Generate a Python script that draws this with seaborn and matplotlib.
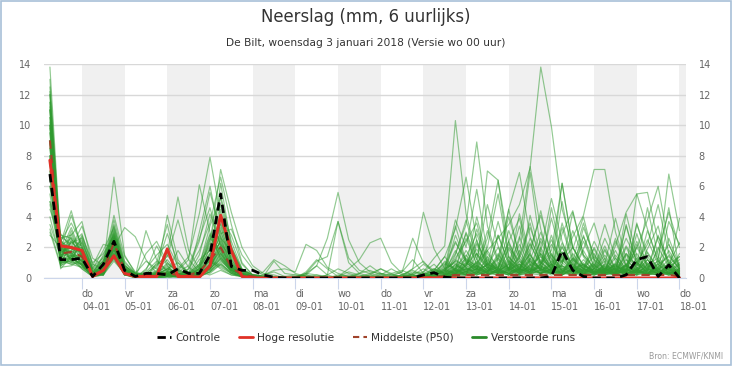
import numpy as np
import pandas as pd
import matplotlib
matplotlib.use("Agg")
import matplotlib.pyplot as plt
from matplotlib.lines import Line2D
from matplotlib.patches import Rectangle
import seaborn as sns

# 6-hourly steps, first value valid 03-01 06 UTC, last 18-01 00 UTC
times = pd.date_range("2018-01-03 06:00", periods=60, freq="6h")
day_ticks = pd.date_range("2018-01-04", "2018-01-18", freq="D")
day_names = ["do", "vr", "za", "zo", "ma", "di", "wo", "do", "vr", "za", "zo", "ma", "di", "wo", "do"]
y_ticks = [0, 2, 4, 6, 8, 10, 12, 14]

controle = [6.8, 1.2, 1.2, 1.3, 0.1, 0.9, 2.4, 0.5, 0.1, 0.3,
            0.3, 0.2, 0.6, 0.3, 0.3, 1.5, 5.5, 0.75, 0.5, 0.5,
            0.2, 0.05, 0, 0, 0, 0, 0, 0, 0, 0,
            0, 0, 0, 0, 0, 0.2, 0.35, 0.05, 0, 0,
            0, 0, 0, 0, 0, 0, 0, 0.1, 1.8, 0.5,
            0.1, 0, 0, 0, 0.2, 1.2, 1.4, 0.1, 0.85, 0]

hoge_resolutie = [7.7, 2.1, 2.0, 1.8, 0.1, 0.5, 1.45, 0.3, 0.1, 0.1,
                  0.1, 1.9, 0.1, 0.1, 0.05, 0.8, 4.1, 1.8, 0.1, 0,
                  0, 0, 0, 0, 0, 0, 0, 0, 0, 0,
                  0, 0, 0, 0, 0, 0, 0, 0, 0, 0,
                  0, 0, 0, 0, 0, 0, 0, 0, 0, 0,
                  0, 0, 0, 0, 0, 0, 0, 0, 0, 0]

middelste = [9.0, 1.6, 1.7, 1.4, 0.2, 0.5, 2.3, 0.5, 0.1, 0.2,
             0.2, 0.3, 0.2, 0.2, 0.4, 1.2, 2.0, 0.7, 0.2, 0.1,
             0, 0, 0, 0, 0, 0, 0, 0, 0, 0,
             0, 0, 0, 0, 0, 0, 0.1, 0.1, 0.2, 0.2,
             0.2, 0.2, 0.2, 0.2, 0.2, 0.2, 0.2, 0.2, 0.2, 0.2,
             0.2, 0.2, 0.2, 0.2, 0.2, 0.2, 0.2, 0.2, 0.2, 0.1]

verstoorde_runs = [
    [13.8, 2.2, 1.5, 1.2, 0.2, 0.8, 2.6, 0.4, 0.1, 0.2,  0.5, 1.2, 0.3, 0.1, 0.4, 2.0, 3.5, 1.0, 0.3, 0.1,  0, 0, 0, 0.1, 0.3, 0.2, 0, 0.1, 0.4, 0.2,  0, 0.1, 0, 0.2, 0.6, 1.1, 0.3, 0.8, 2.4, 1.0,  0.5, 1.8, 0.6, 2.2, 0.4, 1.2, 3.0, 0.8, 0.3, 1.6,  0.6, 2.4, 1.0, 0.2, 3.5, 0.9, 0.4, 2.0, 0.7, 1.2],
    [13.0, 1.8, 4.1, 2.0, 0.1, 0.5, 3.2, 0.6, 0.2, 0.1,  0.2, 0.6, 1.0, 0.3, 1.5, 4.2, 2.2, 0.6, 0.1, 0,  0.1, 0, 0, 0, 0.2, 0, 0, 0, 0.1, 0.3,  0.5, 0.2, 0, 0, 0.3, 0.4, 0.9, 0.2, 1.5, 3.8,  1.2, 0.4, 2.8, 0.9, 0.3, 4.1, 1.5, 0.6, 2.3, 0.8,  0.2, 1.1, 0.4, 2.6, 0.8, 0.3, 1.9, 3.4, 0.6, 0.2],
    [12.5, 1.2, 1.0, 0.9, 0.3, 1.4, 2.2, 0.3, 0, 0,  1.0, 3.5, 0.6, 0.2, 0.1, 0.9, 6.2, 2.1, 0.4, 0.2,  0.1, 0, 0.1, 0, 0, 0, 0, 0.2, 0.1, 0,  0, 0, 0.2, 0.1, 0, 0.3, 0.6, 0.2, 0.4, 1.2,  0.8, 2.6, 6.4, 1.4, 0.5, 0.2, 1.1, 0.4, 0.9, 3.1,  1.4, 0.3, 0.6, 1.8, 0.4, 2.2, 0.7, 0.2, 1.0, 0.3],
    [12.0, 2.6, 2.8, 3.7, 0.8, 2.2, 2.0, 0.5, 0.2, 0.1,  0, 0.2, 0.1, 0.6, 2.4, 5.6, 3.0, 1.2, 0.3, 0.1,  0, 0, 0, 0, 0, 0.2, 0.1, 0, 0, 0.1,  0.2, 0, 0, 0.1, 0.4, 0.2, 0.1, 0.6, 1.0, 0.5,  3.2, 1.1, 0.6, 2.4, 0.7, 1.6, 4.4, 1.3, 0.5, 0.2,  2.8, 0.6, 1.5, 0.4, 1.2, 0.5, 3.1, 1.1, 0.3, 0.9],
    [12.0, 1.5, 1.8, 1.1, 0.1, 0.3, 1.6, 0.2, 0.1, 0.5,  2.1, 0.8, 0.1, 0, 0.3, 1.2, 4.5, 0.9, 0.2, 0,  0, 0.1, 0, 0, 0.4, 1.2, 0.6, 0.1, 0, 0,  0, 0, 0, 0, 0.1, 0.2, 0.1, 0.1, 0.3, 0.7,  0.2, 0.4, 1.3, 0.6, 2.7, 0.9, 0.3, 1.5, 0.6, 0.4,  1.8, 0.5, 0.2, 0.7, 2.1, 1.0, 0.4, 0.2, 2.6, 0.8],
    [11.5, 0.9, 2.4, 1.6, 0.2, 0.6, 3.0, 0.8, 0.3, 1.1,  0.6, 0.2, 0, 0.1, 0.6, 2.8, 1.4, 0.4, 0.1, 0,  0, 0, 0, 0.1, 0, 0, 0.2, 0.6, 0.3, 0.1,  0, 0.1, 0.3, 0.5, 0.2, 0, 0.2, 0.4, 0.6, 2.6,  0.9, 0.3, 0.5, 1.2, 0.4, 2.3, 0.7, 0.5, 3.6, 1.2,  0.4, 0.8, 2.1, 0.6, 0.3, 1.3, 0.5, 2.7, 1.1, 0.2],
    [11.5, 2.0, 1.2, 2.4, 0.4, 0.2, 1.8, 0.4, 0.1, 0,  0, 0.4, 1.8, 0.7, 0.2, 0.6, 2.6, 1.8, 0.5, 0.2,  0.1, 0, 0, 0, 0, 0, 0, 0, 0, 0.1,  0.3, 0.1, 0, 0, 0, 0.1, 0.4, 1.0, 0.5, 0.2,  1.6, 0.6, 0.3, 2.0, 1.1, 0.4, 1.8, 5.2, 2.4, 0.6,  1.0, 0.3, 0.6, 0.2, 0.8, 0.4, 1.2, 0.5, 0.3, 1.6],
    [11.0, 1.3, 3.1, 1.4, 0.1, 1.0, 2.4, 0.6, 0.2, 0.1,  0.3, 0.9, 0.5, 0.2, 0.8, 3.4, 5.2, 2.0, 0.6, 0.2,  0.1, 0, 0, 0, 0, 0.1, 0, 0, 0, 0,  0, 0, 0, 0.1, 0.2, 0.6, 0.2, 0.1, 0.9, 0.4,  0.3, 1.0, 0.5, 0.2, 1.4, 3.6, 0.8, 0.3, 1.1, 2.0,  0.7, 0.2, 0.4, 1.5, 0.6, 0.2, 0.9, 1.3, 4.6, 0.5],
    [11.0, 1.7, 2.0, 0.8, 0.2, 0.4, 3.5, 1.0, 0.3, 0.2,  0.1, 0, 0.2, 0.1, 0.3, 0.8, 1.6, 0.5, 0.2, 0.1,  0, 0, 0, 0, 0.2, 0.1, 0, 0, 0, 0,  0.1, 0.3, 0.1, 0, 0.2, 0.1, 0.3, 0.5, 3.4, 1.1,  0.6, 0.8, 2.0, 0.5, 0.9, 0.3, 0.5, 2.8, 0.7, 0.3,  0.5, 1.6, 0.4, 0.3, 2.0, 0.6, 0.2, 0.5, 1.2, 0.4],
    [11.0, 0.6, 1.4, 2.8, 1.0, 1.6, 2.8, 0.3, 0, 0.6,  1.5, 2.2, 0.8, 0.4, 0.2, 0.5, 1.0, 0.3, 0.1, 0,  0, 0, 0, 0, 0, 0, 0, 0.1, 0.2, 0.1,  0, 0, 0, 0, 0.3, 0.9, 0.4, 0.2, 0.5, 0.3,  0.8, 0.4, 1.6, 0.6, 0.3, 0.8, 2.4, 0.9, 0.3, 1.1,  3.6, 1.2, 0.5, 0.8, 0.4, 0.2, 0.6, 0.3, 0.9, 2.3],
    [10.5, 1.9, 1.6, 1.3, 0.1, 0.7, 2.1, 0.5, 0.2, 0.1,  0.2, 0.6, 0.3, 0.2, 3.0, 6.0, 2.6, 0.8, 0.2, 0,  0, 0, 0, 0, 0, 0, 0, 0, 0.1, 0,  0, 0.2, 0.6, 0.2, 0, 0, 0.1, 0.3, 0.6, 0.2,  2.2, 0.7, 0.4, 0.9, 3.4, 1.0, 0.6, 0.3, 2.1, 0.5,  0.9, 0.3, 1.8, 0.5, 0.2, 3.6, 1.2, 0.4, 0.7, 0.3],
    [10.5, 2.4, 3.6, 2.2, 0.3, 0.9, 4.1, 1.4, 0.4, 0.2,  0.1, 0.2, 0.1, 0, 0.2, 1.6, 3.9, 1.2, 0.3, 0.1,  0, 0, 0, 0, 0, 0, 0, 0, 0, 0,  0.1, 0.1, 0, 0, 0, 0.2, 0.5, 1.4, 0.4, 0.6,  0.5, 3.1, 1.0, 0.4, 0.6, 1.5, 0.5, 0.9, 0.2, 0.6,  0.3, 0.7, 0.2, 0.4, 1.6, 0.8, 2.5, 0.9, 0.4, 0.2],
    [10.0, 1.1, 0.9, 0.7, 0.2, 1.2, 1.5, 0.2, 0.1, 0.3,  0.8, 1.6, 5.3, 1.8, 0.6, 0.3, 0.9, 0.4, 0.1, 0,  0, 0, 0, 0, 0, 0, 0, 0, 0, 0,  0, 0, 0, 0, 0, 0.1, 0.2, 0.4, 1.8, 0.6,  0.4, 0.2, 0.6, 4.5, 1.3, 0.5, 0.7, 1.6, 0.4, 0.2,  0.8, 0.5, 0.3, 1.0, 0.4, 2.9, 0.7, 0.3, 0.6, 1.4],
    [10.0, 2.8, 2.6, 1.0, 0.1, 0.3, 2.7, 0.7, 0.2, 0,  0, 0.1, 0.6, 1.4, 4.2, 7.9, 4.0, 1.5, 0.5, 0.2,  0.1, 0.1, 0, 0, 0, 0, 0, 0, 0, 0,  0, 0, 0, 0, 0, 0, 0.1, 0.2, 0.7, 1.5,  0.6, 0.3, 1.2, 0.5, 2.2, 0.8, 1.4, 0.6, 3.3, 1.0,  0.4, 0.9, 0.3, 2.4, 0.7, 0.4, 1.7, 0.6, 0.3, 0.5],
    [10.0, 1.4, 1.7, 2.0, 0.6, 1.8, 3.3, 0.9, 0.1, 0.1,  0.4, 0.3, 0.2, 0.1, 0.7, 2.3, 7.1, 4.3, 2.0, 0.8,  0.3, 0.2, 0, 0, 0, 0, 0, 0, 0, 0,  0, 0, 0, 0.2, 0.5, 0.2, 0, 0, 0.3, 0.8,  4.0, 1.3, 0.4, 0.7, 0.3, 1.2, 0.6, 0.3, 1.4, 0.6,  0.2, 0.6, 1.1, 0.3, 0.8, 0.4, 0.2, 1.0, 2.2, 0.7],
    [9.5, 0.8, 1.3, 0.9, 0.2, 0.5, 2.5, 0.4, 0.1, 0.2,  0.3, 1.0, 0.4, 0.2, 1.2, 1.8, 2.9, 3.2, 1.5, 0.6,  0.2, 0.4, 0.1, 0, 0, 0, 0, 0, 0, 0,  0.2, 0.6, 0.3, 0, 0.1, 0.2, 0.1, 0.5, 1.1, 2.9,  0.8, 0.5, 0.3, 1.9, 0.6, 0.4, 2.6, 1.2, 0.5, 0.3,  1.2, 0.4, 0.7, 0.3, 1.5, 0.6, 0.3, 0.8, 0.4, 1.0],
    [9.5, 2.1, 1.9, 1.7, 0.3, 0.6, 1.9, 0.3, 0.1, 0.1,  0.1, 0.3, 0.2, 0.6, 1.8, 3.6, 6.6, 3.5, 1.0, 0.2,  0, 0, 0, 0, 0, 0, 0, 0, 0, 0,  0, 0, 0, 0, 0, 0, 0.2, 0.5, 0.3, 1.0,  0.4, 0.9, 3.7, 1.1, 0.4, 0.7, 0.3, 0.6, 1.7, 0.9,  0.3, 0.2, 0.5, 1.3, 0.4, 0.8, 4.6, 1.4, 0.5, 0.2],
    [9.0, 1.6, 2.3, 2.6, 0.5, 0.2, 2.3, 0.5, 0.2, 0.1,  0.2, 4.1, 1.2, 0.3, 0.1, 0.4, 1.3, 0.6, 0.2, 0.1,  0, 0, 0, 0, 0.3, 0.8, 0.2, 0, 0, 0,  0, 0, 0.1, 0.4, 1.2, 0.3, 0.1, 0.2, 0.4, 0.2,  0.6, 0.3, 0.8, 0.4, 1.5, 6.9, 1.8, 0.6, 0.3, 0.5,  0.7, 1.9, 0.4, 0.2, 0.9, 1.6, 0.5, 0.3, 0.6, 0.2],
    [9.0, 1.0, 1.1, 1.5, 0.4, 1.1, 2.9, 0.6, 0.1, 0.4,  1.1, 0.5, 0.2, 0.1, 0.2, 0.6, 2.2, 1.4, 0.4, 0.1,  0, 0, 0, 0, 0, 0, 0.2, 3.7, 1.0, 0.3,  0.1, 0, 0, 0, 0, 0, 0.1, 0.3, 0.9, 0.4,  1.0, 0.5, 0.3, 0.6, 0.9, 0.4, 1.2, 0.7, 5.0, 1.4,  0.6, 0.3, 0.8, 0.5, 0.2, 0.6, 1.4, 0.5, 1.8, 0.6],
    [9.0, 2.3, 4.4, 1.8, 0.2, 0.4, 1.7, 0.3, 0, 0,  0, 0.1, 0.4, 0.8, 2.6, 4.6, 2.0, 0.7, 0.2, 0.1,  0, 0, 0, 0, 0, 0, 0, 0, 0, 0.3,  0.8, 0.3, 0, 0, 0, 0, 0, 0.1, 0.4, 0.8,  0.5, 0.2, 0.4, 1.0, 0.5, 2.6, 1.0, 0.4, 0.2, 0.7,  0.3, 0.6, 1.9, 0.6, 0.4, 1.1, 0.3, 0.2, 0.5, 0.3],
    [8.5, 1.2, 1.5, 0.6, 0.1, 0.3, 2.0, 0.4, 0.2, 0.2,  0.7, 2.9, 1.0, 0.3, 0.6, 1.1, 0.7, 0.3, 0.1, 0,  0, 0, 0, 0, 0, 0, 0, 0, 0, 0,  0, 0, 0, 0, 0, 0.1, 0, 0.2, 1.2, 0.7,  0.3, 1.4, 0.6, 0.3, 0.8, 0.4, 0.9, 3.9, 1.2, 0.4,  0.9, 0.4, 0.3, 0.7, 0.5, 2.0, 0.8, 0.4, 0.3, 0.6],
    [8.5, 1.8, 2.0, 3.4, 1.3, 0.8, 2.6, 0.7, 0.3, 0.1,  0.1, 0.3, 0.1, 0.2, 0.4, 2.5, 5.4, 2.4, 0.6, 0.2,  0.1, 0, 0, 0, 0, 0, 0, 0, 0, 0,  0, 0, 0, 0, 0, 0, 0, 0.1, 0.5, 1.8,  0.7, 0.4, 0.2, 0.5, 1.8, 0.6, 0.3, 0.5, 0.9, 4.3,  1.5, 0.6, 0.4, 0.9, 0.3, 0.5, 1.0, 0.4, 0.2, 0.4],
    [8.0, 0.7, 0.8, 1.2, 0.2, 0.6, 1.3, 0.2, 0.1, 0,  0, 0.2, 0.3, 0.1, 0.2, 0.8, 3.1, 1.0, 0.3, 0.1,  0, 0, 0.1, 0.2, 0.1, 0, 0, 0, 0, 0,  0, 0, 0, 0, 0, 0, 0, 0, 0.2, 0.6,  0.3, 0.7, 0.4, 0.2, 0.6, 0.3, 0.8, 0.5, 0.2, 0.6,  2.4, 0.8, 0.3, 0.5, 0.4, 0.9, 0.3, 0.6, 0.2, 0.4],
    [8.0, 2.5, 1.6, 1.9, 0.3, 0.5, 3.8, 1.1, 0.3, 0.2,  0.2, 0.4, 0.2, 0.1, 0.3, 1.3, 2.4, 0.8, 0.2, 0.1,  0, 0, 0, 0, 0, 0, 0, 0, 0, 0,  0, 0, 0, 0.1, 0, 0, 0.3, 0.6, 0.2, 1.4,  2.9, 0.9, 0.5, 0.3, 0.7, 0.4, 2.0, 0.6, 0.3, 1.3,  0.5, 0.3, 0.9, 3.9, 1.2, 0.5, 0.3, 0.7, 1.5, 0.6],
    [8.0, 1.4, 1.2, 2.3, 0.7, 1.3, 2.2, 0.5, 0.1, 1.6,  2.4, 1.0, 0.3, 0.1, 0.2, 0.5, 1.6, 0.7, 0.2, 0.1,  0, 0, 0, 0, 0, 0, 0, 0, 0, 0,  0, 0, 0, 0, 0, 0, 0, 0, 0.1, 0.4,  1.1, 0.5, 0.7, 0.3, 0.2, 0.9, 0.4, 1.1, 0.5, 0.3,  0.2, 0.4, 0.6, 0.3, 4.2, 1.4, 0.6, 0.3, 0.8, 0.4],
    [7.5, 2.0, 1.7, 0.9, 0.1, 0.2, 1.4, 0.3, 0.1, 0.1,  0.3, 0.8, 0.2, 0.1, 0.3, 0.7, 3.6, 1.6, 0.5, 0.1,  0, 0, 0, 0, 0, 0, 0, 0, 0, 0,  0, 0, 0, 0, 0, 0, 0, 0.1, 0.3, 0.2,  0.4, 0.2, 0.5, 0.8, 0.3, 0.6, 1.6, 0.5, 0.8, 0.3,  0.6, 1.4, 0.5, 0.3, 0.2, 0.4, 0.7, 1.1, 0.5, 3.9],
    [7.5, 1.1, 2.9, 1.4, 0.2, 0.9, 3.1, 0.6, 0.2, 0.1,  0.1, 0.2, 0.1, 0.3, 0.9, 2.1, 4.8, 1.9, 0.5, 0.2,  0.1, 0, 0, 0, 0, 0, 0, 0, 0, 0,  0, 0, 0, 0.1, 0.2, 0.1, 0, 0.1, 0.6, 0.4,  0.2, 0.6, 0.3, 0.4, 1.1, 0.5, 0.3, 0.9, 6.2, 2.0,  0.8, 0.3, 0.5, 0.2, 0.6, 0.3, 0.5, 0.9, 0.3, 0.5],
    [7.0, 1.5, 1.0, 1.6, 0.4, 0.7, 2.4, 0.8, 0.3, 0.2,  0.4, 0.7, 0.2, 0.1, 0.1, 0.4, 1.1, 0.5, 0.2, 0.1,  0, 0, 0, 0, 0, 0, 0, 0, 0, 0,  0, 0, 0, 0, 0, 0, 0, 0, 0.2, 0.9,  1.6, 0.8, 0.4, 0.2, 0.5, 1.3, 0.6, 0.3, 0.4, 0.2,  0.5, 2.0, 0.7, 0.4, 0.9, 0.3, 0.6, 0.3, 0.2, 0.4],
    [7.0, 2.7, 2.2, 2.9, 0.6, 0.4, 1.6, 0.2, 0, 0,  0, 0, 0.1, 0.2, 0.6, 1.9, 4.0, 2.8, 0.9, 0.2,  0.1, 0, 0, 0, 0, 0, 0, 0, 0, 0,  0, 0, 0, 0, 0, 0, 0, 0.2, 0.5, 0.3,  0.6, 0.4, 0.9, 0.5, 4.2, 1.5, 0.5, 0.3, 0.6, 0.4,  0.3, 0.5, 0.2, 0.6, 0.3, 0.7, 0.4, 0.6, 0.9, 0.3],
    [6.5, 0.9, 1.4, 0.8, 0.1, 0.3, 2.8, 0.5, 0.1, 0.3,  0.9, 1.4, 3.8, 1.2, 0.4, 0.2, 0.5, 0.2, 0.1, 0,  0, 0, 0, 0, 0, 0, 0, 0, 0, 0,  0, 0, 0, 0, 0, 0, 0, 0, 0.1, 0.5,  0.8, 0.3, 0.2, 0.6, 0.3, 0.4, 0.8, 0.4, 1.2, 0.5,  0.2, 0.3, 0.8, 0.4, 0.6, 0.2, 0.5, 0.3, 0.7, 0.3],
    [6.5, 1.7, 3.3, 1.5, 0.3, 1.5, 2.7, 0.4, 0.2, 0.1,  0.2, 0.3, 0.5, 1.2, 6.1, 3.0, 1.2, 0.5, 0.2, 0,  0, 0, 0, 0, 0, 0, 0, 0, 0, 0,  0, 0, 0, 0, 0, 0, 0, 0, 0.3, 0.6,  0.4, 1.2, 0.5, 0.3, 0.2, 0.6, 0.3, 0.5, 0.4, 0.8,  0.3, 0.2, 0.4, 0.9, 0.3, 0.5, 0.2, 0.4, 0.3, 0.6],
    [6.0, 2.2, 1.1, 0.7, 0.2, 0.5, 1.2, 0.3, 0.1, 0.1,  0.1, 0.2, 0.2, 0.1, 0.2, 0.9, 1.8, 0.6, 0.2, 0.1,  0.4, 1.2, 0.8, 0.3, 0.1, 0, 0, 0, 0, 0,  0, 0, 0, 0, 0, 0, 0, 0, 0.2, 0.4,  0.6, 0.3, 1.5, 0.6, 0.2, 0.3, 0.5, 0.2, 0.4, 0.9,  0.4, 0.6, 0.3, 0.2, 0.5, 0.3, 0.8, 0.4, 0.2, 0.3],
    [6.0, 1.3, 2.5, 2.1, 0.3, 0.8, 2.0, 3.3, 2.7, 1.2,  0.3, 0.2, 0.1, 0.1, 0.3, 0.6, 1.3, 0.4, 0.1, 0,  0, 0, 0, 0, 0, 0, 0, 0, 0, 0,  0, 0, 0, 0, 0, 0, 0, 0, 0.4, 0.3,  0.2, 0.5, 0.3, 0.7, 0.4, 0.2, 0.6, 0.3, 0.5, 0.2,  0.4, 0.3, 0.5, 0.6, 0.2, 0.4, 0.3, 0.2, 0.6, 0.4],
    [5.5, 1.0, 1.5, 1.1, 0.2, 0.6, 6.6, 1.5, 0.3, 0.2,  0.1, 0.2, 0.1, 0, 0.2, 0.8, 2.0, 0.7, 0.2, 0.1,  0, 0, 0, 0, 0, 0, 0, 0, 0, 0,  0, 0, 0, 0, 0, 0, 0, 0.1, 0.3, 0.8,  2.5, 0.7, 0.3, 0.5, 0.2, 0.4, 0.3, 0.6, 0.2, 0.5,  0.3, 0.2, 0.6, 0.3, 0.4, 0.2, 0.3, 0.5, 0.3, 0.2],
    [5.0, 2.9, 2.0, 1.3, 0.4, 0.2, 1.9, 0.4, 0.1, 3.1,  1.2, 0.4, 0.2, 0.1, 0.4, 1.1, 0.6, 0.2, 0.1, 0,  0, 0, 0, 0, 0, 0, 0, 0, 0, 0,  0, 0, 0, 0, 0, 0, 0, 0, 0.1, 0.2,  0.3, 0.2, 0.4, 0.2, 0.6, 0.3, 0.2, 0.4, 0.3, 0.2,  0.5, 0.3, 0.2, 0.4, 0.3, 0.5, 0.2, 0.3, 0.4, 0.2],
    [5.0, 1.6, 1.3, 0.9, 0.1, 0.4, 2.3, 0.5, 0.2, 0.1,  0.2, 0.6, 0.3, 0.2, 0.5, 1.4, 2.7, 0.9, 0.3, 0.1,  0, 0, 0, 0, 0, 0, 0, 0, 0, 0,  0, 0, 0, 0, 0, 0.4, 1.3, 2.1, 10.3, 4.2,  1.5, 0.6, 2.8, 1.0, 0.4, 0.8, 0.3, 0.6, 1.7, 0.5,  0.3, 0.8, 0.4, 0.2, 0.6, 0.3, 0.9, 0.4, 0.3, 0.5],
    [4.5, 2.4, 1.9, 2.0, 0.3, 0.5, 1.6, 0.3, 0.1, 0.1,  0.1, 0.2, 0.2, 0.1, 0.3, 0.7, 1.5, 0.5, 0.2, 0.1,  0, 0, 0, 0, 0, 0, 0, 0, 0, 0,  0, 0, 0, 0, 0, 0.1, 0.2, 0.5, 1.6, 3.5,  8.9, 3.4, 1.2, 4.0, 1.5, 0.6, 0.3, 0.9, 0.4, 1.3,  0.6, 0.3, 0.5, 0.8, 0.3, 0.4, 0.2, 0.6, 0.3, 0.2],
    [4.0, 1.2, 0.9, 1.2, 0.2, 0.6, 2.1, 0.4, 0.1, 0.2,  0.3, 0.1, 0.1, 0.2, 0.8, 1.6, 2.3, 0.7, 0.2, 0.1,  0, 0, 0, 0, 0, 0, 0, 0, 0, 0,  0, 0, 0, 0, 0, 0.2, 0.6, 0.3, 0.5, 0.4,  1.0, 1.8, 2.6, 3.5, 4.8, 7.2, 13.8, 9.9, 4.5, 2.0,  0.8, 0.4, 0.6, 0.3, 0.9, 0.5, 0.3, 0.7, 0.4, 0.2],
    [3.5, 1.4, 2.7, 1.7, 0.4, 0.3, 2.5, 0.6, 0.2, 0.1,  0.2, 0.4, 0.2, 0.1, 0.6, 2.6, 1.8, 0.5, 0.2, 0.1,  0, 0, 0, 0, 0, 0, 0, 0, 0, 0,  0, 0, 0, 0, 0, 0, 0, 0.2, 0.6, 1.0,  0.5, 0.3, 0.4, 1.1, 0.6, 0.3, 0.9, 2.2, 1.0, 2.7,  4.1, 7.1, 7.1, 3.0, 0.8, 0.5, 1.2, 0.4, 0.3, 0.6],
    [3.0, 0.8, 1.2, 0.6, 0.1, 0.2, 1.3, 0.2, 0.1, 0,  0, 0.1, 0.1, 0, 0.1, 0.4, 0.9, 0.3, 0.1, 0,  0, 0, 0, 0, 0, 0, 0, 0, 0, 0,  0, 0, 0, 0, 0, 0, 0, 0.1, 0.3, 0.2,  0.4, 0.2, 0.6, 0.3, 0.5, 1.6, 0.4, 0.3, 0.8, 0.5,  0.3, 0.6, 0.4, 2.1, 4.3, 5.5, 3.2, 1.1, 6.8, 3.1],
    [2.8, 2.0, 1.6, 1.0, 0.2, 0.4, 2.2, 0.4, 0.1, 0.1,  0.2, 0.5, 0.1, 0.1, 0.3, 0.9, 1.7, 0.6, 0.2, 0.1,  0, 0, 0, 0, 0.2, 0.8, 2.6, 5.6, 2.5, 1.0,  0.4, 0.3, 0.2, 0.1, 0.6, 4.3, 1.9, 0.6, 2.3, 1.2,  0.6, 7.0, 6.4, 2.3, 0.9, 0.4, 0.7, 0.3, 1.5, 0.6,  0.4, 0.9, 0.3, 0.6, 0.2, 1.0, 0.4, 0.3, 0.8, 0.3],
    [12.2, 1.8, 1.4, 1.6, 0.3, 0.7, 2.7, 0.5, 0.1, 0.2,  0.4, 1.5, 0.5, 0.2, 0.3, 1.0, 2.1, 0.8, 0.3, 0.1,  0, 0, 0, 0, 0.3, 1.1, 1.4, 3.7, 1.3, 0.5,  0.3, 0.6, 0.2, 0.4, 2.6, 1.0, 0.5, 1.4, 3.2, 6.6,  2.4, 0.8, 0.4, 0.9, 0.3, 1.1, 0.6, 0.4, 2.0, 0.7,  0.5, 1.0, 0.4, 0.3, 0.7, 2.4, 0.9, 0.4, 0.6, 0.3],
    [11.2, 2.1, 2.6, 1.3, 0.2, 0.5, 1.9, 0.3, 0.1, 0.1,  0.1, 0.3, 0.2, 0.1, 0.2, 0.7, 1.9, 0.7, 0.2, 0.1,  0, 0, 0, 0, 0, 0, 0, 0.1, 0.6, 1.2,  2.3, 2.6, 1.0, 0.3, 0.2, 0.1, 0.3, 0.6, 1.1, 0.8,  1.9, 0.6, 1.3, 4.5, 6.9, 2.7, 1.0, 0.5, 0.8, 0.4,  0.6, 0.3, 0.9, 0.5, 0.3, 0.6, 0.2, 1.2, 0.5, 0.4],
    [10.2, 1.5, 1.8, 2.5, 0.5, 1.0, 2.4, 0.6, 0.2, 0.1,  0.3, 0.6, 0.3, 0.2, 0.5, 1.3, 2.8, 1.1, 0.3, 0.1,  0.2, 0.5, 0.6, 0.4, 2.2, 1.8, 0.7, 0.3, 0.1, 0,  0, 0, 0, 0, 0, 0.2, 0.4, 0.9, 0.6, 1.3,  0.7, 0.4, 1.0, 0.6, 2.5, 7.3, 3.2, 0.9, 0.4, 0.6,  0.9, 0.4, 1.3, 0.5, 0.8, 2.0, 3.8, 6.0, 2.2, 0.7],
    [9.8, 1.9, 1.2, 0.9, 0.2, 0.3, 1.5, 0.2, 0.1, 0,  0.1, 0.2, 0.4, 0.2, 0.3, 0.6, 1.2, 0.4, 0.1, 0,  0.1, 1.1, 0.3, 0.2, 0.1, 0, 0, 0, 0, 0,  0, 0, 0, 0.2, 0.1, 0.3, 0.2, 0.4, 0.8, 0.5,  0.3, 0.9, 0.5, 0.3, 0.6, 0.4, 1.6, 0.8, 0.5, 1.2,  0.6, 0.4, 0.3, 0.8, 0.5, 5.5, 5.6, 2.4, 1.0, 0.5],
    [8.8, 1.0, 2.1, 1.7, 0.6, 1.1, 3.4, 0.8, 0.3, 0.2,  0.2, 0.4, 0.2, 0.1, 0.4, 1.5, 3.3, 1.3, 0.4, 0.1,  0, 0, 0, 0, 0, 0, 0, 0, 0, 0,  0, 0, 0, 0, 0.1, 0.2, 0.5, 0.3, 2.8, 1.1,  0.6, 2.0, 5.5, 1.3, 0.7, 2.2, 0.9, 1.8, 6.2, 1.9,  4.0, 1.2, 0.6, 0.4, 1.6, 0.7, 0.3, 0.9, 1.4, 0.6],
    [7.8, 1.7, 1.5, 1.1, 0.1, 0.4, 2.6, 0.5, 0.2, 0.1,  0.1, 0.2, 0.1, 0.3, 0.9, 2.9, 1.6, 0.5, 0.2, 0,  0, 0, 0, 0, 0, 0, 0, 0, 0, 0,  0, 0, 0, 0, 0, 0, 0.3, 0.7, 3.8, 2.0,  5.8, 1.6, 0.7, 2.4, 3.9, 1.1, 0.5, 4.6, 1.3, 0.6,  1.9, 3.6, 1.2, 0.5, 3.4, 1.0, 0.6, 2.8, 0.9, 1.4],
    [6.8, 2.5, 1.1, 2.7, 0.9, 0.6, 1.8, 0.4, 0.1, 0.1,  0.2, 0.3, 0.2, 0.1, 0.2, 0.6, 1.4, 0.5, 0.2, 0.1,  0, 0, 0, 0, 0, 0, 0, 0, 0, 0,  0, 0, 0, 0, 0, 0, 0.2, 1.1, 0.6, 3.0,  1.2, 4.8, 2.1, 0.6, 1.3, 3.3, 1.4, 0.5, 2.9, 4.4,  1.5, 0.7, 2.6, 1.1, 0.4, 3.5, 1.6, 0.6, 3.7, 2.2],
    [4.8, 1.3, 2.4, 1.4, 0.3, 0.9, 2.9, 0.7, 0.2, 0.1,  0.2, 0.4, 0.3, 0.1, 0.3, 0.8, 2.5, 0.9, 0.3, 0.1,  0, 0, 0, 0, 0, 0, 0, 0, 0, 0,  0, 0, 0, 0, 0, 0, 0.1, 0.4, 1.3, 2.4,  3.6, 0.9, 0.5, 1.4, 0.6, 1.9, 4.1, 1.5, 0.6, 0.9,  2.7, 1.1, 3.5, 1.3, 0.5, 1.0, 2.2, 4.8, 1.6, 0.5],
    [3.2, 0.9, 1.4, 0.8, 0.1, 0.2, 1.1, 0.3, 0.1, 0,  0, 0.1, 0.1, 0.2, 0.4, 1.2, 0.8, 0.3, 0.1, 0,  0, 0, 0, 0, 0, 0, 0, 0, 0, 0,  0, 0, 0, 0, 0, 0, 0, 0.2, 0.5, 0.9,  2.3, 1.0, 0.6, 3.1, 1.2, 0.5, 0.9, 2.5, 1.0, 0.4,  3.3, 1.5, 0.6, 0.9, 2.6, 1.2, 0.5, 1.8, 4.3, 2.0],
]

for run in verstoorde_runs:
    assert len(run) == len(times), len(run)

# long-form table for seaborn
runs_df = pd.DataFrame({
    "tijd": np.tile(times, len(verstoorde_runs)),
    "mm": np.concatenate(verstoorde_runs),
    "run": np.repeat(np.arange(len(verstoorde_runs)), len(times)),
})

sns.set_style("white")
plt.rcParams["font.family"] = ["DejaVu Sans"]

fig = plt.figure(figsize=(7.32, 3.66), dpi=100)
ax = fig.add_axes([44 / 732, 88 / 366, 642 / 732, 214 / 366])

# alternating day bands
for d in day_ticks[::2]:
    ax.axvspan(d, d + pd.Timedelta(days=1), color="#f0f0f0", lw=0, zorder=0)

green = "#2f9a2f"
red = "#e03127"
brown = "#a0432b"
sns.lineplot(data=runs_df, x="tijd", y="mm", units="run", estimator=None,
             color=green, alpha=0.52, lw=0.85, legend=False, ax=ax, zorder=2)
sns.lineplot(x=times, y=middelste, color=brown, lw=1.5, ax=ax, zorder=3,
             linestyle=(0, (4, 3)))
sns.lineplot(x=times, y=hoge_resolutie, color=red, lw=2.2, ax=ax, zorder=4)
sns.lineplot(x=times, y=controle, color="black", lw=2, ax=ax, zorder=5,
             linestyle=(0, (3, 2)))

ax.set_xlim(pd.Timestamp("2018-01-03 02:40"), pd.Timestamp("2018-01-18 03:40"))
ax.set_ylim(0, 14)
ax.set_yticks(y_ticks)
ax.grid(axis="y", color="#d8d8d8", lw=1)
ax.grid(axis="x", visible=False)
ax.set_axisbelow(True)
for s in ["top", "left", "right"]:
    ax.spines[s].set_visible(False)
ax.spines["bottom"].set_color("#ccd6eb")
ax.set_xlabel("")
ax.set_ylabel("")

ax.set_xticks(day_ticks)
ax.set_xticklabels([f"{n}\n{d:%d-%m}" for n, d in zip(day_names, day_ticks)],
                   ha="left", color="#666666", fontsize=7, linespacing=1.35)
ax.tick_params(axis="x", length=8, color="#ccd6eb", pad=0, direction="out", bottom=True)
ax.tick_params(axis="y", length=0, labelcolor="#666666", labelsize=7,
               labelleft=True, labelright=True, pad=9)

fig.text(0.5, 1 - 17 / 366, "Neerslag (mm, 6 uurlijks)", ha="center", va="center",
         fontsize=11.9, color="#333333")
fig.text(0.5, 1 - 43 / 366, "De Bilt, woensdag 3 januari 2018 (Versie wo 00 uur)",
         ha="center", va="center", fontsize=7.7, color="#333333")
fig.text(723 / 732, 1 - 356 / 366, "Bron: ECMWF/KNMI", ha="right", va="center",
         fontsize=5.6, color="#999999")

handles = [
    Line2D([], [], color="black", lw=2, linestyle=(0, (3, 1.5))),
    Line2D([], [], color=red, lw=2),
    Line2D([], [], color=brown, lw=1.5, linestyle=(0, (3, 2))),
    Line2D([], [], color="#2a8a2a", lw=2),
]
labels = ["Controle", "Hoge resolutie", "Middelste (P50)", "Verstoorde runs"]
fig.legend(handles, labels, loc="center", bbox_to_anchor=(366 / 732, 1 - 338 / 366),
           ncol=4, frameon=False, fontsize=7.6, handlelength=1.3, handletextpad=0.45,
           columnspacing=1.75, labelcolor="#333333")

fig.patches.append(Rectangle((0.001, 0.002), 0.997, 0.995, transform=fig.transFigure,
                             fill=False, edgecolor="#a8c0d8", lw=1.2))

fig.savefig("out.png", dpi=100)
